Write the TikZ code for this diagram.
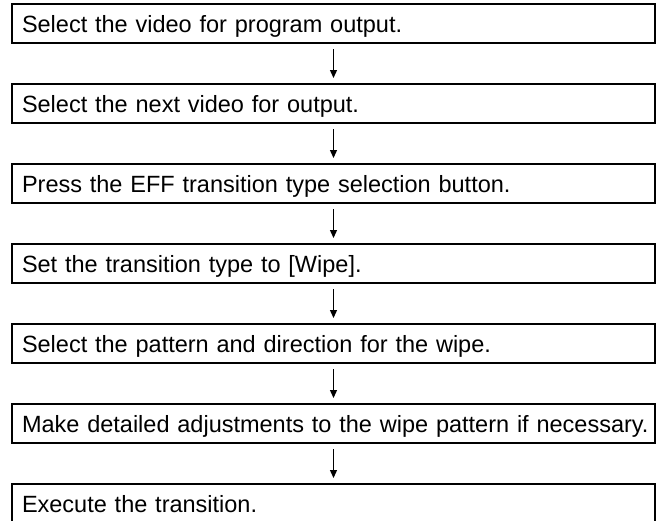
\documentclass[tikz,border=0pt]{standalone}
\usepackage{fontspec}
\setmainfont{Liberation Sans}
\usetikzlibrary{arrows.meta, positioning}

\begin{document}
\begin{tikzpicture}[
        x=1pt, y=1pt,
        node distance=41pt,
        stepbox/.style={draw, line width=2pt, outer sep=0pt, inner xsep=10pt, inner ysep=0pt,
            text width=623pt, align=left, minimum height=39pt, text height=17pt, text depth=0pt,
            font=\fontsize{23.5}{28}\selectfont},
        flow/.style={-{Triangle[width=7pt, length=8pt]}, line width=1.3pt, shorten <=6pt, shorten >=6pt}
    ]
        \useasboundingbox (0,0) rectangle (658,-520);

        \node[stepbox, anchor=north] (pick) at (333.5,-4) {Select the video for program output.};
        \node[stepbox, below=of pick] (next) {Select the next video for output.};
        \node[stepbox, below=of next] (press) {Press the EFF transition type selection button.};
        \node[stepbox, below=of press] (wipe) {Set the transition type to [Wipe].};
        \node[stepbox, below=of wipe] (pattern) {Select the pattern and direction for the wipe.};
        % long line: keep it on one row
        \node[stepbox, below=of pattern] (adjust) {\mbox{Make detailed adjustments to the wipe pattern if necessary.}};
        \node[stepbox, below=of adjust] (execute) {Execute the transition.};

        % arrows between the steps
        \draw[flow] (pick) -- (next);
        \draw[flow] (next) -- (press);
        \draw[flow] (press) -- (wipe);
        \draw[flow] (wipe) -- (pattern);
        \draw[flow] (pattern) -- (adjust);
        \draw[flow] (adjust) -- (execute);
    \end{tikzpicture}
\end{document}
